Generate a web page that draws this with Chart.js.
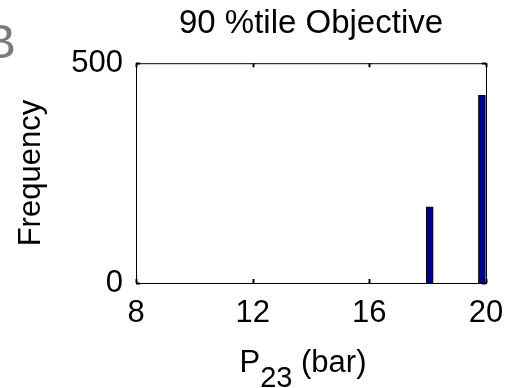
<!DOCTYPE html>
<html>
<head>
<meta charset="utf-8">
<script src="https://cdn.jsdelivr.net/npm/chart.js@4/dist/chart.umd.min.js"></script>
<style>
  html, body { margin: 0; padding: 0; background: #fff; }
  #histChart { display: block; }
</style>
</head>
<body>
<canvas id="histChart" width="506" height="388"></canvas>
<script>
// histogram of P23 at the 90 %tile objective
const binCenters = [18.07, 19.86];
const binCounts = [173, 427];
const xTicks = [8, 12, 16, 20];
const yTicks = [0, 500];

const FONT = "'Liberation Sans', Arial, sans-serif";

// MATLAB-like box with inward tick marks
const boxAxes = {
  id: "boxAxes",
  afterDatasetsDraw(chart) {
    const { ctx, chartArea: a, scales } = chart;
    ctx.save();
    ctx.strokeStyle = "#000";
    ctx.lineWidth = 1;
    ctx.strokeRect(a.left + 0.5, a.top + 0.5, a.right - a.left, a.bottom - a.top);
    ctx.lineWidth = 2;
    ctx.beginPath();
    xTicks.forEach((v) => {
      const x = Math.round(scales.x.getPixelForValue(v)) + 0.5;
      ctx.moveTo(x, a.bottom);
      ctx.lineTo(x, a.bottom - 4);
      ctx.moveTo(x, a.top);
      ctx.lineTo(x, a.top + 4);
    });
    yTicks.forEach((v) => {
      const y = Math.round(scales.y.getPixelForValue(v)) + 0.5;
      ctx.moveTo(a.left, y);
      ctx.lineTo(a.left + 4, y);
      ctx.moveTo(a.right, y);
      ctx.lineTo(a.right - 4, y);
    });
    ctx.stroke();
    ctx.restore();
  },
};

// x label with subscript, plus the panel letter in the corner
const extraText = {
  id: "extraText",
  afterDraw(chart) {
    const { ctx } = chart;
    ctx.save();
    ctx.fillStyle = "#000";
    ctx.textBaseline = "alphabetic";
    ctx.textAlign = "left";
    const big = "31px " + FONT;
    const small = "29px " + FONT;
    ctx.font = big;
    const wP = ctx.measureText("P").width;
    const wRest = ctx.measureText(" (bar)").width;
    ctx.font = small;
    const wSub = ctx.measureText("23").width;
    let x = 303 - (wP + wSub + wRest) / 2;
    const base = 372;
    ctx.font = big;
    ctx.fillText("P", x, base);
    x += wP;
    ctx.font = small;
    ctx.fillText("23", x, base + 15);
    x += wSub;
    ctx.font = big;
    ctx.fillText(" (bar)", x, base);

    ctx.fillStyle = "#7a7a7a";
    ctx.font = "49px " + FONT;
    ctx.textAlign = "right";
    ctx.fillText("B", 16, 58);
    ctx.restore();
  },
};

new Chart(document.getElementById("histChart"), {
  type: "bar",
  data: {
    datasets: [
      {
        data: binCenters.map((c, i) => ({ x: c, y: binCounts[i] })),
        backgroundColor: "#00008f",
        borderColor: "#000",
        borderWidth: 1,
        barThickness: 7,
        grouped: false,
      },
    ],
  },
  options: {
    responsive: false,
    animation: false,
    devicePixelRatio: 1,
    layout: { padding: { left: 0, right: 20, top: 0, bottom: 0 } },
    plugins: {
      legend: { display: false },
      tooltip: { enabled: false },
      title: {
        display: true,
        fullSize: false,
        text: "90 %tile Objective",
        color: "#000",
        font: { family: FONT, size: 33, weight: "normal" },
        padding: { top: 4, bottom: 19.6 },
      },
    },
    scales: {
      x: {
        type: "linear",
        min: 8,
        max: 20,
        offset: false,
        afterBuildTicks: (s) => { s.ticks = xTicks.map((v) => ({ value: v })); },
        afterFit: (s) => {
          s.height = 105;
          s.paddingLeft = 0;
          s.paddingRight = 0;
        },
        grid: { display: false, drawTicks: false },
        border: { display: false },
        ticks: {
          color: "#000",
          font: { family: FONT, size: 31 },
          padding: 12,
          maxRotation: 0,
        },
      },
      y: {
        min: 0,
        max: 500,
        afterBuildTicks: (s) => { s.ticks = yTicks.map((v) => ({ value: v })); },
        afterFit: (s) => {
          s.width = 136;
          s.paddingTop = 0;
          s.paddingBottom = 0;
        },
        grid: { display: false, drawTicks: false },
        border: { display: false },
        ticks: {
          color: "#000",
          font: { family: FONT, size: 31 },
          padding: 13,
        },
        title: {
          display: true,
          text: "Frequency",
          color: "#000",
          font: { family: FONT, size: 31 },
          padding: { top: 12.7, bottom: 0 },
        },
      },
    },
  },
  plugins: [boxAxes, extraText],
});
</script>
</body>
</html>
